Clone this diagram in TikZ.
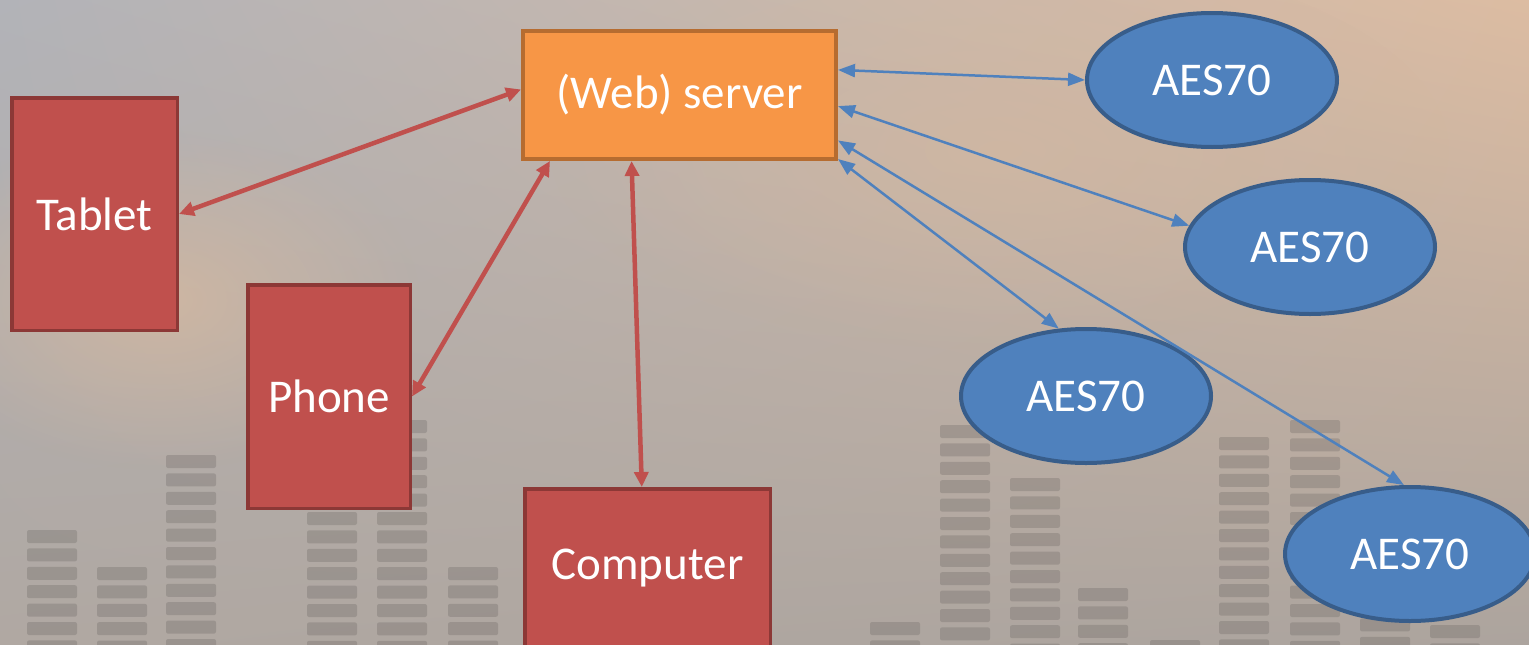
\documentclass[tikz,border=0pt]{standalone}
\usepackage{fontspec}
\setmainfont{Carlito}
\usetikzlibrary{arrows.meta,shapes.geometric,fadings,shadings}

\definecolor{bgTL}{RGB}{178,179,184}
\definecolor{bgTR}{RGB}{220,188,162}
\definecolor{bgBL}{RGB}{176,168,162}
\definecolor{bgBR}{RGB}{172,164,158}
\definecolor{glow}{RGB}{212,184,160}
\definecolor{barcol}{RGB}{100,95,92}
\definecolor{devred}{RGB}{192,80,77}
\definecolor{devredline}{RGB}{140,56,54}
\definecolor{srvorange}{RGB}{247,150,70}
\definecolor{srvline}{RGB}{182,108,48}
\definecolor{aesblue}{RGB}{79,129,189}
\definecolor{aesline}{RGB}{56,93,138}

\tikzfading[name=softglow,inner color=transparent!0,outer color=transparent!100]

\begin{document}
\begin{tikzpicture}[x=1pt,y=-1pt,
  txtw/.style={text=white,font=\fontsize{47}{56}\selectfont},
  device/.style={rectangle,draw=devredline,fill=devred,line width=3.5pt,inner sep=0pt,txtw},
  srvbox/.style={rectangle,draw=srvline,fill=srvorange,line width=4pt,inner sep=0pt,txtw},
  aesnode/.style={ellipse,draw=aesline,fill=aesblue,line width=4pt,inner sep=0pt,
    minimum width=250pt,minimum height=134pt,txtw},
  redlink/.style={draw=devred,line width=4.5pt,
    {Triangle[length=15pt,width=14pt]}-{Triangle[length=15pt,width=14pt]}},
  bluelink/.style={draw=aesblue,line width=2.5pt,
    {Triangle[length=17pt,width=13pt]}-{Triangle[length=17pt,width=13pt]}},
  barseg/.style={fill=barcol,opacity=0.28,rounded corners=2pt}
]
\useasboundingbox (0,0) rectangle (1529,645);
\clip (0,0) rectangle (1529,645);

% backdrop
\shade[upper left=bgTL,upper right=bgTR,lower left=bgBL,lower right=bgBR]
  (0,0) rectangle (1529,645);
\fill[glow,path fading=softglow,opacity=0.8] (160,300) ellipse (260pt and 170pt);
\fill[glow,path fading=softglow,opacity=0.6] (1000,150) ellipse (450pt and 200pt);

% level-meter bars
\foreach \bx/\bt in {27/530,97/567,166/455,307/420,377/420,448/567,
                     870/622,940/425,1010/478,1078/588,1150/640,
                     1219/437,1290/420,1360/600,1430/625}{
  \foreach \k in {0,...,13}{
    \path[barseg] (\bx,{\bt+18.4*\k}) rectangle ++(50,13);
  }
}

% nodes
\node[srvbox,minimum width=313pt,minimum height=128pt] (server) at (679.5,95) {(Web) server};
\node[device,minimum width=165.5pt,minimum height=232.5pt] (tablet) at (94.5,214) {Tablet};
\node[device,minimum width=162.5pt,minimum height=223.5pt] (phone) at (329,396.5) {Phone};
\node[device,minimum width=245.5pt,minimum height=159pt] (computer) at (647.5,568.25) {Computer};

\node[aesnode] (aes1) at (1212,80) {AES70};
\node[aesnode] (aes2) at (1310,247) {AES70};
\node[aesnode] (aes3) at (1086,396) {AES70};
\node[aesnode] (aes4) at (1410,554) {AES70};

% client links
\draw[redlink] (tablet.east) -- (server.178);
\draw[redlink] (phone.east) -- (server.207);
\draw[redlink] (computer.94) -- (server.234);

% device links
\draw[bluelink] (server.9) -- (aes1.west);
\draw[bluelink] (server.-4) -- (aes2.170);
\draw[bluelink] (server.-22) -- (aes3.112);
\draw[bluelink] (server.-16) -- (aes4.95);
\end{tikzpicture}
\end{document}
